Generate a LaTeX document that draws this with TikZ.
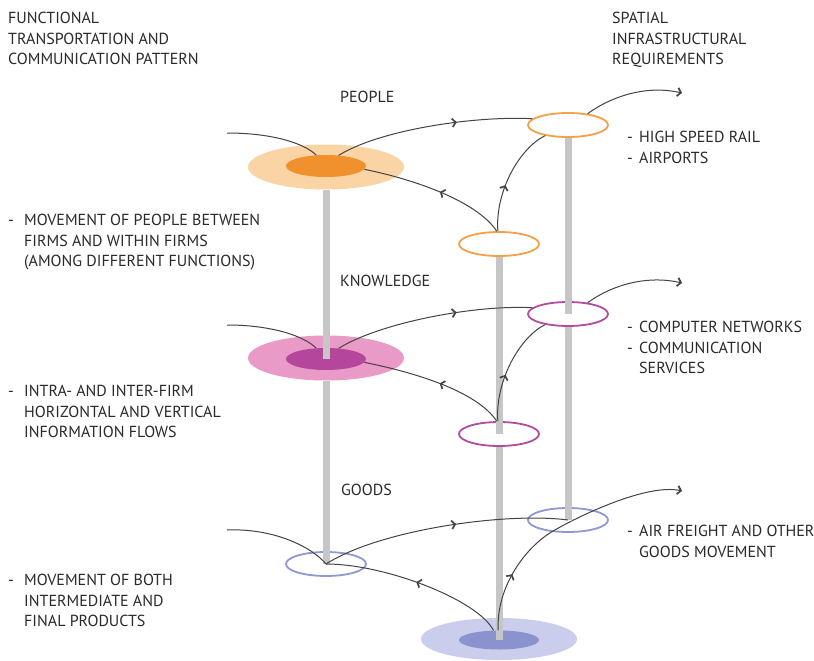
\documentclass[tikz,border=0pt]{standalone}
\usepackage{fontspec}
\setmainfont{PT Sans}
\usetikzlibrary{shapes.geometric,decorations.markings,arrows.meta}

\definecolor{ink}{HTML}{2A2A2A}
\definecolor{flow}{HTML}{444444}
\definecolor{polegray}{HTML}{C6C6C6}
\definecolor{orgLight}{HTML}{FBD4A6}
\definecolor{orgDark}{HTML}{F0912E}
\definecolor{orgRing}{HTML}{F2A04A}
\definecolor{pnkLight}{HTML}{E99AC6}
\definecolor{pnkDark}{HTML}{B4479B}
\definecolor{pnkRing}{HTML}{B24C9F}
\definecolor{bluLight}{HTML}{CACDEB}
\definecolor{bluDark}{HTML}{8B93CF}
\definecolor{bluRing}{HTML}{8F98D5}

% bullet dash with hanging indent (left column and right column widths)
\newcommand\dashitem{\makebox[16pt][l]{-}}
\newcommand\contline{\makebox[16pt]{}}
\newcommand\dashitemR{\makebox[12pt][l]{-}}
\newcommand\contlineR{\makebox[12pt]{}}

\tikzset{
  txt/.style={font=\fontsize{16}{20.5}\selectfont, text=ink, inner sep=0pt,
    anchor=north west, align=left},
  halo/.style={ellipse, minimum width=156pt, minimum height=45pt, inner sep=0pt},
  core/.style={ellipse, minimum width=80pt, minimum height=22pt, inner sep=0pt},
  ring/.style={ellipse, minimum width=80pt, minimum height=24pt, inner sep=0pt,
    fill=white, line width=1.8pt},
  polebar/.style={draw=polegray, line width=7pt},
  flowline/.style={draw=flow, line width=1pt},
  midtip/.style={postaction={decorate}, decoration={markings,
    mark=at position #1 with {\arrow[flow]{Straight Barb[length=3.5pt,width=8.5pt,line width=1.7pt]}}}},
  endtip/.style={-{Straight Barb[length=3.5pt,width=8.5pt,line width=1.7pt]}}
}

\begin{document}
\begin{tikzpicture}[x=1pt,y=-1pt]
\useasboundingbox[fill=white] (0,0) rectangle (814,661);

% ---- discs and rings ----
\node[halo, fill=orgLight] (pHalo) at (326,167) {};
\node[core, fill=orgDark] (pCore) at (326,166) {};
\node[halo, fill=pnkLight] (kHalo) at (326,358) {};
\node[core, fill=pnkDark] (kCore) at (326,359) {};
\node[ring, draw=bluRing] (gRingL) at (326,564) {};

\node[ring, draw=orgRing] (pRingM) at (499,244) {};
\node[ring, draw=pnkRing] (kRingM) at (499,434) {};
\node[halo, fill=bluLight, minimum height=42pt] (gHalo) at (499,639) {};
\node[core, fill=bluDark, minimum height=19pt] (gCore) at (499,640) {};

\node[ring, draw=orgRing] (pRingR) at (568,125) {};
\node[ring, draw=pnkRing] (kRingR) at (568,314) {};
\node[ring, draw=bluRing] (gRingR) at (568,520) {};

% ---- poles ----
\draw[polebar] (pHalo.south) -- (kCore.center);
\draw[polebar] (kHalo.south) -- (gRingL.center);
\draw[polebar] (pRingM.south) -- (kRingM.center);
\draw[polebar] (kRingM.south) -- (gCore.center);
\draw[polebar] (pRingR.south) -- (kRingR.center);
\draw[polebar] (kRingR.south) -- (gRingR.center);

% ---- free ends ----
\coordinate (pIn) at (227,133);
\coordinate (pOut) at (682,93);
\coordinate (kIn) at (227,325);
\coordinate (kOut) at (682,283);
\coordinate (gIn) at (227,530);
\coordinate (gOut) at (682,491);

% ---- people flows ----
\draw[flowline] (pIn) .. controls +(45,0) and +(-12,-12) .. (pCore.132);
\draw[flowline, midtip=0.62] (pCore.40) .. controls +(40,-25) and +(-60,-3) .. (pRingR.170);
\draw[flowline, endtip] (pRingR.30) .. controls +(25,-18) and +(-35,-8) .. (pOut);
\draw[flowline, midtip=0.47] (pRingM.100) .. controls +(-20,-30) and +(50,10) .. (pCore.-5);
\draw[flowline, midtip=0.42] (pRingM.95) .. controls +(-3,-40) and +(-25,12) .. (pRingR.205);

% ---- knowledge flows ----
\draw[flowline] (kIn) .. controls +(45,0) and +(-12,-12) .. (kCore.132);
\draw[flowline, midtip=0.62] (kCore.40) .. controls +(40,-25) and +(-60,-3) .. (kRingR.170);
\draw[flowline, endtip] (kRingR.30) .. controls +(25,-18) and +(-35,-8) .. (kOut);
\draw[flowline, midtip=0.47] (kRingM.100) .. controls +(-20,-30) and +(50,10) .. (kCore.-5);
\draw[flowline, midtip=0.42] (kRingM.95) .. controls +(-3,-40) and +(-25,12) .. (kRingR.205);

% ---- goods flows ----
\draw[flowline] (gIn) .. controls +(45,-2) and +(-15,-18) .. (gRingL.center);
\draw[flowline, midtip=0.55] (gRingL.center) .. controls +(55,-35) and +(-60,-8) .. (gRingR.center);
\draw[flowline, midtip=0.5] (gCore.95) .. controls +(-2,-45) and +(-25,15) .. (gRingR.216);
\draw[flowline, endtip] (gRingR.216) .. controls +(25,-15) and +(-35,-8) .. (gOut);
\draw[flowline, midtip=0.5] (gCore.120) .. controls +(-15,-30) and +(60,0) .. (gRingL.center);

% ---- labels ----
\node[txt] (hdLeft) at (8,12) {FUNCTIONAL\\TRANSPORTATION AND\\COMMUNICATION PATTERN};
\node[txt] (hdRight) at (612,12) {SPATIAL\\INFRASTRUCTURAL\\REQUIREMENTS};

\node[txt] (lvP) at (340,91) {PEOPLE};
\node[txt] (lvK) at (340,275) {KNOWLEDGE};
\node[txt] (lvG) at (341,484) {GOODS};

\node[txt] (dsP) at (8,214) {\dashitem MOVEMENT OF PEOPLE BETWEEN\\\contline FIRMS AND WITHIN FIRMS\\\contline (AMONG DIFFERENT FUNCTIONS)};
\node[txt] (dsK) at (8,385) {\dashitem INTRA- AND INTER-FIRM\\\contline HORIZONTAL AND VERTICAL\\\contline INFORMATION FLOWS};
\node[txt] (dsG) at (8,574) {\dashitem MOVEMENT OF BOTH\\\contline INTERMEDIATE AND\\\contline FINAL PRODUCTS};

\node[txt] (inP) at (627,131) {\dashitemR HIGH SPEED RAIL\\\dashitemR AIRPORTS};
\node[txt] (inK) at (627,321) {\dashitemR COMPUTER NETWORKS\\\dashitemR COMMUNICATION\\\contlineR SERVICES};
\node[txt] (inG) at (627,525) {\dashitemR AIR FREIGHT AND OTHER\\\contlineR GOODS MOVEMENT};
\end{tikzpicture}
\end{document}
